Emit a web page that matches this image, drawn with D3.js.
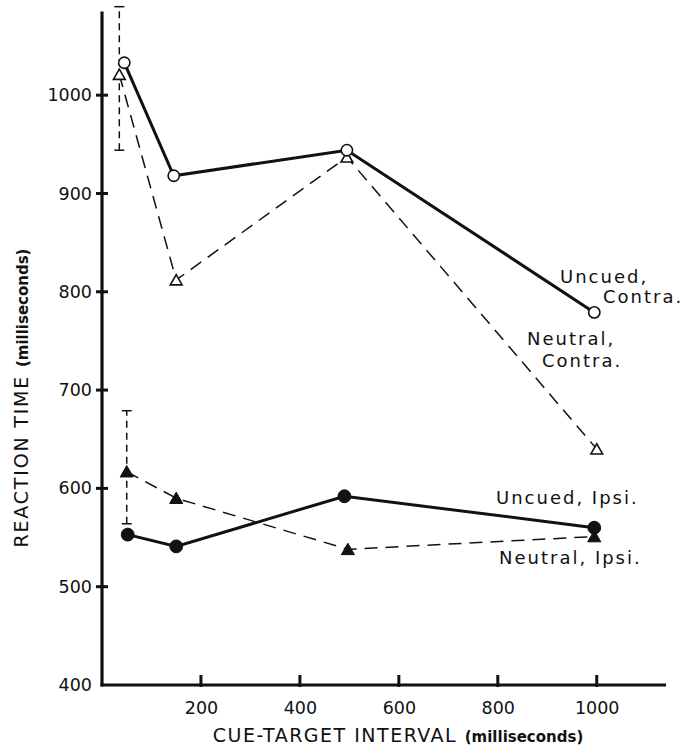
<!DOCTYPE html>
<html>
<head>
<meta charset="utf-8">
<script src="https://cdn.jsdelivr.net/npm/d3@7"></script>
<style>
  body { margin: 0; background: #fff; }
  svg { display: block; }
</style>
</head>
<body>
<div id="chart"></div>
<script>
// values (ms)
var uncuedContraX = [45, 145, 495, 995];
var uncuedContraY = [1033, 918, 944, 779];
var neutralContraX = [35, 150, 495, 1000];
var neutralContraY = [1021, 812, 937, 640];
var uncuedIpsiX = [52, 150, 490, 995];
var uncuedIpsiY = [553, 541, 592, 560];
var neutralIpsiX = [50, 150, 497, 995];
var neutralIpsiY = [617, 590, 538, 551];

var errX = [35, 50];
var errLow = [944, 564];
var errHigh = [1090, 679];

var xTicks = [200, 400, 600, 800, 1000];
var yTicks = [400, 500, 600, 700, 800, 900, 1000];

var svgWidth = 700;
var svgHeight = 746;

var svg = d3.select("#chart")
    .append("svg")
    .attr("width", svgWidth)
    .attr("height", svgHeight);

var xScale = d3.scaleLinear().domain([0, 1140]).range([102, 666]);
var yScale = d3.scaleLinear().domain([400, 1085]).range([685, 11.6]);

var tickFont = "'DejaVu Sans', sans-serif";

// y axis (labels only, ticks drawn below so they cross the line)
var yAxis = d3.axisLeft(yScale).tickValues(yTicks).tickSize(0).tickPadding(10).tickFormat(d3.format("d"));
var gy = svg.append("g")
    .attr("transform", `translate(${xScale(0)},0)`)
    .call(yAxis);
gy.select(".domain").remove();
gy.selectAll(".tick text")
    .attr("font-family", tickFont)
    .attr("font-size", 17.5)
    .attr("fill", "#111");

var xAxis = d3.axisBottom(xScale).tickValues(xTicks).tickSize(0).tickPadding(17).tickFormat(d3.format("d"));
var gx = svg.append("g")
    .attr("transform", `translate(0,${yScale(400)})`)
    .call(xAxis);
gx.select(".domain").remove();
gx.selectAll(".tick text")
    .attr("font-family", tickFont)
    .attr("font-size", 17.5)
    .attr("fill", "#111");

// axis lines and ticks
svg.append("line")
    .attr("x1", xScale(0)).attr("x2", xScale(0))
    .attr("y1", yScale(400) + 1.5).attr("y2", yScale(1085))
    .attr("stroke", "#111").attr("stroke-width", 3.2);
svg.append("line")
    .attr("x1", xScale(0) - 1.5).attr("x2", xScale(1140))
    .attr("y1", yScale(400)).attr("y2", yScale(400))
    .attr("stroke", "#111").attr("stroke-width", 3.2);

svg.selectAll(null)
    .data(yTicks.filter(d => d > 400))
    .enter()
    .append("line")
    .attr("x1", xScale(0) - 6).attr("x2", xScale(0) + 6)
    .attr("y1", d => yScale(d)).attr("y2", d => yScale(d))
    .attr("stroke", "#111").attr("stroke-width", 3);

svg.selectAll(null)
    .data(xTicks)
    .enter()
    .append("line")
    .attr("x1", d => xScale(d)).attr("x2", d => xScale(d))
    .attr("y1", yScale(400) - 10).attr("y2", yScale(400) + 2)
    .attr("stroke", "#111").attr("stroke-width", 3);

// axis titles
var xTitle = svg.append("text")
    .attr("x", 398)
    .attr("y", 742)
    .attr("text-anchor", "middle")
    .attr("font-family", tickFont)
    .attr("font-size", 19)
    .attr("fill", "#111");
xTitle.append("tspan").attr("letter-spacing", 1.5).text("CUE-TARGET INTERVAL ");
xTitle.append("tspan").attr("font-size", 15).attr("font-weight", "bold").text("(milliseconds)");

var yTitle = svg.append("text")
    .attr("transform", "translate(28,398) rotate(-90)")
    .attr("text-anchor", "middle")
    .attr("font-family", tickFont)
    .attr("font-size", 19)
    .attr("fill", "#111");
yTitle.append("tspan").attr("letter-spacing", 1.8).text("REACTION TIME ");
yTitle.append("tspan").attr("font-size", 15).attr("font-weight", "bold").text("(milliseconds)");

// error bars
errX.forEach(function (x, i) {
    var g = svg.append("g").attr("stroke", "#111").attr("stroke-width", 1.5);
    g.append("line")
        .attr("x1", xScale(x)).attr("x2", xScale(x))
        .attr("y1", yScale(errLow[i])).attr("y2", yScale(errHigh[i]))
        .attr("stroke-dasharray", "7,5");
    [errLow[i], errHigh[i]].forEach(function (v) {
        g.append("line")
            .attr("x1", xScale(x) - 5).attr("x2", xScale(x) + 5)
            .attr("y1", yScale(v)).attr("y2", yScale(v));
    });
});

function toPts(xs, ys) {
    return xs.map((x, i) => [x, ys[i]]);
}

var line = d3.line().x(d => xScale(d[0])).y(d => yScale(d[1]));

var series = [
    { pts: toPts(neutralContraX, neutralContraY), dashed: true, shape: "triangle", filled: false },
    { pts: toPts(neutralIpsiX, neutralIpsiY), dashed: true, shape: "triangle", filled: true },
    { pts: toPts(uncuedContraX, uncuedContraY), dashed: false, shape: "circle", filled: false },
    { pts: toPts(uncuedIpsiX, uncuedIpsiY), dashed: false, shape: "circle", filled: true }
];

series.forEach(function (s) {
    svg.append("path")
        .datum(s.pts)
        .attr("d", line)
        .attr("fill", "none")
        .attr("stroke", "#111")
        .attr("stroke-width", s.dashed ? 1.5 : 3)
        .attr("stroke-dasharray", s.dashed ? "13,8" : null);
});

series.forEach(function (s) {
    var sym = d3.symbol()
        .type(s.shape == "circle" ? d3.symbolCircle : d3.symbolTriangle)
        .size(s.shape == "circle" ? (s.filled ? 130 : 100) : (s.filled ? 75 : 60));
    svg.selectAll(null)
        .data(s.pts)
        .enter()
        .append("path")
        .attr("d", sym)
        .attr("transform", d => `translate(${xScale(d[0])},${yScale(d[1]) + (s.shape == "triangle" ? 1.5 : 0)})`)
        .attr("fill", s.filled ? "#111" : "#fff")
        .attr("stroke", "#111")
        .attr("stroke-width", s.filled ? 1 : 1.6);
});

// curve labels
var labels = [
    { text: "Uncued,", x: 560, y: 283 },
    { text: "Contra.", x: 603, y: 303 },
    { text: "Neutral,", x: 527, y: 345 },
    { text: "Contra.", x: 542, y: 367 },
    { text: "Uncued, Ipsi.", x: 496, y: 504 },
    { text: "Neutral, Ipsi.", x: 499, y: 564 }
];

svg.selectAll(null)
    .data(labels)
    .enter()
    .append("text")
    .attr("x", d => d.x)
    .attr("y", d => d.y)
    .attr("font-family", tickFont)
    .attr("font-size", 18)
    .attr("letter-spacing", 2)
    .attr("fill", "#111")
    .text(d => d.text);
</script>
</body>
</html>
